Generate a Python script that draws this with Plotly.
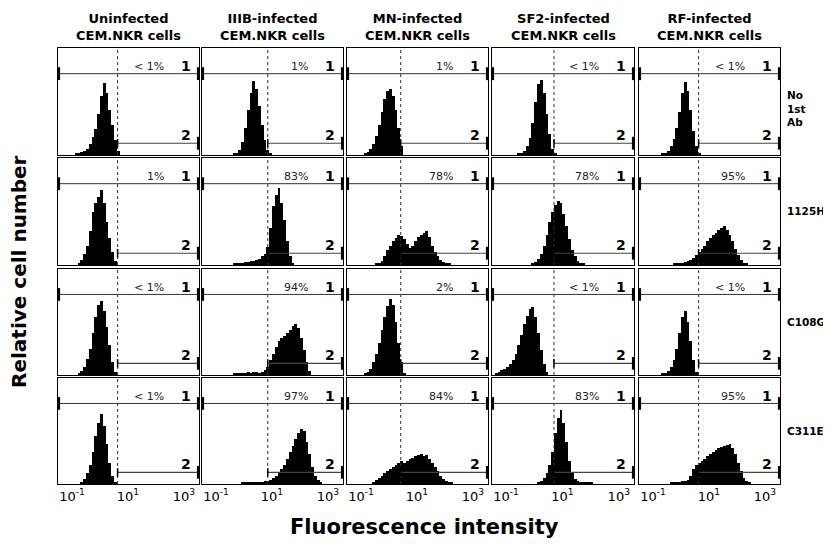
import plotly.graph_objects as go

# ---------------- data (log10 fluorescence units, 0.1-decade bins) ----------------
BIN = 0.1
col_titles = ["Uninfected<br>CEM.NKR cells", "IIIB-infected<br>CEM.NKR cells",
              "MN-infected<br>CEM.NKR cells", "SF2-infected<br>CEM.NKR cells",
              "RF-infected<br>CEM.NKR cells"]
row_titles = ["No<br>1st<br>Ab", "1125H", "C108G", "C311E"]
tick_vals = [-1, 1, 3]
tick_text = ["10<sup>-1</sup>", "10<sup>1</sup>", "10<sup>3</sup>"]
gate_log = [0.63, 0.85, 0.42, 0.70, 0.63]   # marker-2 start (dotted line), per column

pct_no1st = ["< 1%", "1%", "1%", "< 1%", "< 1%"]
pct_1125h = ["1%", "83%", "78%", "78%", "95%"]
pct_c108g = ["< 1%", "94%", "2%", "< 1%", "< 1%"]
pct_c311e = ["< 1%", "97%", "84%", "83%", "95%"]

# Row 1: No 1st Ab
no1st_start = [-0.9, -0.4, -0.9, -0.6, -0.7]
no1st_uninf = [1, 2, 3, 4, 6, 10, 17, 24, 38, 55, 67, 58, 42, 28, 14, 4]
no1st_iiib = [1, 2, 5, 12, 25, 42, 58, 69, 62, 46, 28, 14, 5, 1]
no1st_mn = [1, 3, 6, 10, 18, 28, 40, 52, 60, 62, 55, 42, 25, 8]
no1st_sf2 = [1, 2, 4, 8, 16, 30, 50, 66, 70, 58, 38, 20, 6, 1]
no1st_rf = [1, 2, 4, 8, 15, 25, 40, 58, 68, 60, 42, 22, 8, 1]

# Row 2: 1125H
h1125_start = [-0.8, -0.4, -0.5, -0.1, -0.3]
h1125_uninf = [2, 5, 10, 18, 32, 50, 58, 64, 70, 58, 40, 25, 12, 4]
h1125_iiib = [1, 1, 2, 2, 3, 3, 4, 4, 5, 6, 8, 10, 17, 35, 55, 65, 72, 58, 42, 22, 8, 2]
h1125_mn = [1, 2, 4, 8, 14, 18, 22, 25, 28, 27, 24, 20, 16, 18, 22, 26, 28, 30, 32,
            26, 18, 12, 8, 5, 3, 2, 1]
h1125_sf2 = [1, 3, 6, 10, 18, 28, 40, 50, 56, 60, 58, 48, 36, 24, 14, 8, 4, 2, 1]
h1125_rf = [1, 1, 2, 2, 3, 4, 5, 7, 9, 12, 15, 18, 22, 25, 28, 30, 33, 35, 36, 33,
            28, 22, 15, 9, 5, 2, 1]

# Row 3: C108G
c108g_start = [-0.8, -0.4, -0.9, -1.4, -0.7]
c108g_uninf = [2, 4, 8, 15, 25, 40, 55, 66, 70, 60, 45, 28, 12, 3]
c108g_iiib = [1, 1, 2, 2, 2, 3, 2, 3, 3, 2, 3, 5, 8, 14, 20, 26, 32, 35, 37, 40, 42,
              46, 48, 44, 35, 24, 12, 4]
c108g_mn = [1, 3, 6, 12, 20, 30, 42, 55, 65, 72, 66, 50, 30, 12, 2]
c108g_sf2 = [1, 3, 5, 6, 8, 10, 14, 20, 28, 38, 48, 56, 62, 64, 55, 40, 24, 10, 3]
c108g_rf = [1, 2, 4, 8, 14, 25, 40, 55, 60, 50, 32, 14, 3]

# Row 4: C311E
c311e_start = [-0.7, -0.1, -0.6, 0.1, -0.4]
c311e_uninf = [2, 5, 10, 18, 30, 45, 58, 66, 55, 38, 20, 8, 2]
c311e_iiib = [1, 1, 1, 2, 1, 2, 2, 2, 3, 3, 4, 6, 8, 10, 14, 18, 24, 30, 36, 42, 48,
              52, 50, 40, 28, 16, 8, 4, 1]
c311e_mn = [2, 4, 6, 8, 10, 12, 14, 16, 18, 20, 22, 20, 22, 24, 25, 26, 27, 28, 26,
            27, 24, 20, 16, 12, 8, 5, 3, 2, 1]
c311e_sf2 = [1, 3, 6, 10, 18, 30, 48, 62, 70, 58, 40, 22, 10, 5, 3, 2, 2, 1, 1, 1]
c311e_rf = [1, 1, 2, 2, 3, 3, 4, 8, 14, 18, 20, 22, 24, 26, 28, 30, 32, 34, 35, 36,
            37, 38, 34, 28, 20, 12, 6, 3, 1]

rows = [
    (no1st_start, [no1st_uninf, no1st_iiib, no1st_mn, no1st_sf2, no1st_rf], pct_no1st),
    (h1125_start, [h1125_uninf, h1125_iiib, h1125_mn, h1125_sf2, h1125_rf], pct_1125h),
    (c108g_start, [c108g_uninf, c108g_iiib, c108g_mn, c108g_sf2, c108g_rf], pct_c108g),
    (c311e_start, [c311e_uninf, c311e_iiib, c311e_mn, c311e_sf2, c311e_rf], pct_c311e),
]

# ---------------- layout geometry (page pixels; page body has an 8px margin) ----------------
OFF = 8
W, H = 831 - OFF, 548 - OFF
col_px = [(58, 199), (202, 343), (347, 488), (492, 634), (639, 780)]
row_px = [(48, 155), (158, 265), (269, 375), (378, 484)]
XR = [-1.5, 3.54]
YR = [0, 100]
M1_Y, M2_Y = 76, 11


def px(x):
    return (x - OFF) / W


def py(y):
    return 1 - (y - OFF) / H


FONT = "DejaVu Sans"
fig = go.Figure()
layout = dict(width=W, height=H, margin=dict(l=0, r=0, t=0, b=0),
              plot_bgcolor="white", paper_bgcolor="white", showlegend=False,
              bargap=0, font=dict(family=FONT, color="black"))
shapes, annotations = [], []

for r, (starts, hists, pcts) in enumerate(rows):
    for c in range(5):
        idx = r * 5 + c + 1
        xs = "x" if idx == 1 else f"x{idx}"
        ys = "y" if idx == 1 else f"y{idx}"
        x0, x1 = col_px[c]
        y0, y1 = row_px[r]
        layout["xaxis" if idx == 1 else f"xaxis{idx}"] = dict(
            domain=[px(x0), px(x1)], range=XR, anchor=ys,
            showgrid=False, zeroline=False, showline=True, mirror=True,
            linecolor="black", linewidth=1, ticks="",
            showticklabels=(r == 3), tickvals=tick_vals, ticktext=tick_text,
            tickfont=dict(family=FONT, size=13, color="black"))
        layout["yaxis" if idx == 1 else f"yaxis{idx}"] = dict(
            domain=[py(y1), py(y0)], range=YR, anchor=xs,
            showgrid=False, zeroline=False, showline=True, mirror=True,
            linecolor="black", linewidth=1, showticklabels=False, ticks="")

        vals = hists[c]
        edges = [starts[c] + k * BIN for k in range(len(vals))]
        fig.add_trace(go.Bar(x=edges, y=vals, width=BIN, offset=0,
                             marker=dict(color="black", line=dict(width=0)),
                             xaxis=xs, yaxis=ys, hoverinfo="skip"))

        g = gate_log[c]
        shapes.append(dict(type="line", xref=xs, yref=ys, x0=g, x1=g, y0=0, y1=100,
                           line=dict(color="#333", width=1, dash="dot")))
        shapes.append(dict(type="line", xref=xs, yref=ys, x0=XR[0], x1=XR[1],
                           y0=M1_Y, y1=M1_Y, line=dict(color="#333", width=1)))
        for xe in (XR[0] + 0.03, XR[1] - 0.03):
            shapes.append(dict(type="line", xref=xs, yref=ys, x0=xe, x1=xe,
                               y0=M1_Y - 6, y1=M1_Y + 6, line=dict(color="black", width=2.5)))
        shapes.append(dict(type="line", xref=xs, yref=ys, x0=g, x1=XR[1],
                           y0=M2_Y, y1=M2_Y, line=dict(color="#444", width=1.2)))
        shapes.append(dict(type="line", xref=xs, yref=ys, x0=XR[1] - 0.03, x1=XR[1] - 0.03,
                           y0=M2_Y - 6, y1=M2_Y + 6, line=dict(color="black", width=2.5)))
        shapes.append(dict(type="line", xref=xs, yref=ys, x0=g, x1=g,
                           y0=M2_Y - 4, y1=M2_Y + 4, line=dict(color="black", width=1.5)))
        annotations.append(dict(xref=xs, yref=ys, x=2.37, y=83, text=pcts[c],
                                showarrow=False, xanchor="right", yanchor="middle",
                                font=dict(family=FONT, size=11, color="#222")))
        annotations.append(dict(xref=xs, yref=ys, x=3.07, y=83, text="<b>1</b>",
                                showarrow=False, xanchor="center", yanchor="middle",
                                font=dict(family=FONT, size=14, color="black")))
        annotations.append(dict(xref=xs, yref=ys, x=3.07, y=19, text="<b>2</b>",
                                showarrow=False, xanchor="center", yanchor="middle",
                                font=dict(family=FONT, size=14, color="black")))

for c, t in enumerate(col_titles):
    cx = (col_px[c][0] + col_px[c][1]) / 2
    annotations.append(dict(xref="paper", yref="paper", x=px(cx), y=py(27),
                            text=f"<b>{t}</b>", showarrow=False, xanchor="center",
                            yanchor="middle",
                            font=dict(family=FONT, size=13, color="black")))
for r, t in enumerate(row_titles):
    cy = (row_px[r][0] + row_px[r][1]) / 2 + (7 if r == 0 else 0)
    annotations.append(dict(xref="paper", yref="paper", x=px(785), y=py(cy),
                            text=f"<b>{t}</b>", showarrow=False, xanchor="left",
                            yanchor="middle", align="left",
                            font=dict(family=FONT, size=10.5, color="black")))
annotations.append(dict(xref="paper", yref="paper", x=px(424), y=py(527),
                        text="<b>Fluorescence intensity</b>", showarrow=False,
                        xanchor="center", yanchor="middle",
                        font=dict(family=FONT, size=21, color="black")))
annotations.append(dict(xref="paper", yref="paper", x=px(19), y=py(272),
                        text="<b>Relative cell number</b>", showarrow=False, textangle=-90,
                        xanchor="center", yanchor="middle",
                        font=dict(family=FONT, size=20, color="black")))

layout["shapes"] = shapes
layout["annotations"] = annotations
fig.update_layout(**layout)
fig.write_html("out.html")
